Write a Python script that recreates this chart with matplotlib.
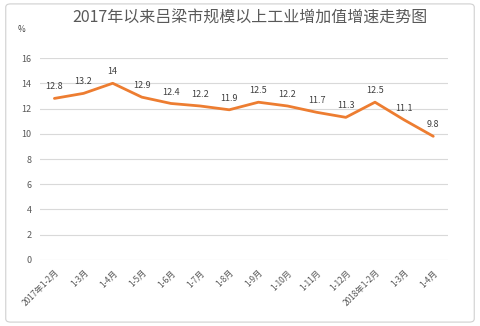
import matplotlib.pyplot as plt
from matplotlib.patches import FancyBboxPatch

plt.rcParams['font.family'] = ['Noto Sans CJK SC', 'DejaVu Sans']

# data
months = ['2017年1-2月', '1-3月', '1-4月', '1-5月', '1-6月', '1-7月', '1-8月',
          '1-9月', '1-10月', '1-11月', '1-12月', '2018年1-2月', '1-3月', '1-4月']
growth = [12.8, 13.2, 14, 12.9, 12.4, 12.2, 11.9, 12.5, 12.2, 11.7, 11.3, 12.5, 11.1, 9.8]

fig = plt.figure(figsize=(4.8, 3.26), dpi=100)
fig.patch.set_facecolor('white')
# rounded chart border
fig.patches.append(FancyBboxPatch((0.012, 0.012), 0.976, 0.976,
                                  boxstyle='round,pad=0,rounding_size=0.01',
                                  transform=fig.transFigure, fill=False,
                                  edgecolor='#d0d0d0', linewidth=0.8))

ax = fig.add_axes([0.083, 0.2025, 0.85, 0.6195])
x = list(range(len(months)))
ax.plot(x, growth, color='#ED7D31', linewidth=2, solid_capstyle='round')
for xi, v in zip(x, growth):
    ax.annotate(f'{v:g}', (xi, v), xytext=(0, 5), textcoords='offset points',
                ha='center', va='bottom', fontsize=6.5, color='#404040')

ax.set_xlim(-0.5, len(months) - 0.5)
ax.set_ylim(0, 16)
ax.set_yticks(range(0, 17, 2))
ax.grid(axis='y', color='#d9d9d9', linewidth=0.8)
ax.set_axisbelow(True)
for s in ax.spines.values():
    s.set_visible(False)
ax.tick_params(axis='both', length=0, labelsize=6.5, labelcolor='#595959', pad=6)
ax.set_xticks(x)
ax.set_xticklabels(months, rotation=45, ha='right', rotation_mode='anchor', fontsize=6)

fig.text(0.52, 0.948, '2017年以来吕梁市规模以上工业增加值增速走势图',
         ha='center', va='center', fontsize=11.5, color='#595959')
fig.text(0.045, 0.91, '%', ha='center', va='center', fontsize=6, color='#404040')

fig.savefig('out.png', dpi=100)
